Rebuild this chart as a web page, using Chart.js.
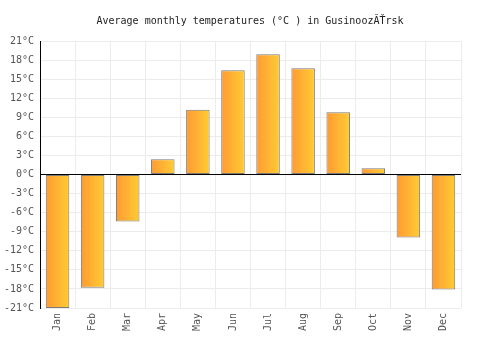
<!DOCTYPE html>
<html>
<head>
<meta charset="utf-8">
<script src="https://cdn.jsdelivr.net/npm/chart.js@4/dist/chart.umd.min.js"></script>
<style>
  html, body { margin: 0; padding: 0; background: #fff; }
  #wrap { width: 500px; height: 350px; }
</style>
</head>
<body>
<div id="wrap"><canvas id="tempChart" width="500" height="350"></canvas></div>
<script>
var months = ["Jan", "Feb", "Mar", "Apr", "May", "Jun", "Jul", "Aug", "Sep", "Oct", "Nov", "Dec"];
var avgTemps = [-21.0, -17.8, -7.4, 2.4, 10.2, 16.4, 18.9, 16.7, 9.8, 1.0, -9.9, -18.1];
var titleText = "Average monthly temperatures (\u00b0C ) in Gusinooz\u0102\u0164rsk";
var monoFont = "'DejaVu Sans Mono', monospace";

function barGradient(context) {
  var chart = context.chart;
  var xScale = chart.scales.x;
  if (!xScale || context.dataIndex === undefined) return "#ffb233";
  var center = xScale.getPixelForValue(context.dataIndex);
  var half = (xScale.width / months.length) * 0.67 / 2;
  if (!isFinite(center) || !isFinite(half) || half <= 0) return "#ffb233";
  var grad = chart.ctx.createLinearGradient(center - half, 0, center + half, 0);
  grad.addColorStop(0, "#ff9a33");
  grad.addColorStop(1, "#ffcc33");
  return grad;
}

var ctx = document.getElementById("tempChart").getContext("2d");
var chart = new Chart(ctx, {
  type: "bar",
  data: {
    labels: months,
    datasets: [
      {
        label: "Temperature",
        data: avgTemps,
        backgroundColor: barGradient,
        borderColor: "#7a7a7a",
        borderWidth: 1,
        borderSkipped: false,
        barPercentage: 0.67,
        categoryPercentage: 1.0,
      },
    ],
  },
  options: {
    responsive: false,
    animation: false,
    layout: {
      padding: 0,
    },
    plugins: {
      legend: { display: false },
      tooltip: { enabled: false },
      title: {
        display: true,
        text: titleText,
        color: "#222",
        font: { family: monoFont, size: 10, weight: "normal" },
        padding: { top: 15, bottom: 14 },
      },
    },
    scales: {
      x: {
        grid: {
          color: "#ececec",
          offset: true,
          drawTicks: false,
        },
        border: { display: false },
        ticks: {
          color: "#555",
          font: { family: monoFont, size: 10 },
          minRotation: 90,
          maxRotation: 90,
          padding: 5,
        },
        afterFit: (scale) => {
          scale.height = 42;
        },
      },
      y: {
        min: -21,
        max: 21,
        grid: {
          color: (c) => (c.tick && c.tick.value === 0 ? "#000" : "#ececec"),
          drawTicks: false,
        },
        border: { display: true, color: "#000", width: 1 },
        ticks: {
          stepSize: 3,
          color: "#555",
          font: { family: monoFont, size: 10 },
          padding: 6,
          callback: (v) => v + "\u00b0C",
        },
        afterFit: (scale) => {
          scale.width = 40;
        },
      },
      // empty right axis, only reserves the blank margin on the right
      yRight: {
        position: "right",
        min: -21,
        max: 21,
        grid: { display: false },
        border: { display: false },
        ticks: { display: false },
        afterFit: (scale) => {
          scale.width = 39;
        },
      },
    },
  },
});
</script>
</body>
</html>
